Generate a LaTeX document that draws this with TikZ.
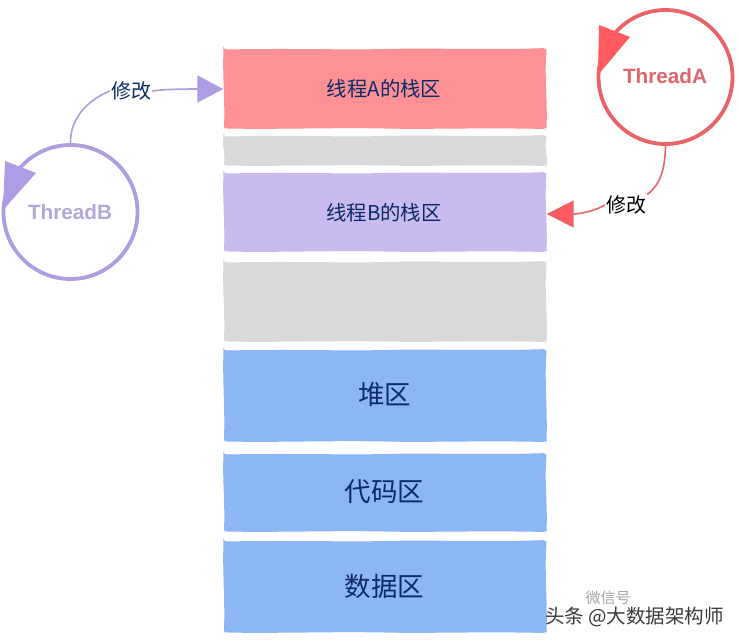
\documentclass[tikz,border=0pt]{standalone}
\usepackage{fontspec}
\setmainfont{Liberation Sans}
\newfontfamily\cjk{Noto Sans CJK SC}
\usetikzlibrary{arrows.meta}
\definecolor{boxred}{HTML}{FF9095}
\definecolor{boxpurple}{HTML}{C9BBEE}
\definecolor{boxgray}{HTML}{D9D8DA}
\definecolor{boxblue}{HTML}{8DB6F6}
\definecolor{inkblue}{HTML}{0B2B66}
\definecolor{ringred}{HTML}{E9636B}
\definecolor{tipred}{HTML}{FF5A60}
\definecolor{ringpurple}{HTML}{AE9DDF}
\definecolor{tippurple}{HTML}{AE9DE5}
\definecolor{namepurple}{HTML}{B3A7D8}
\definecolor{namered}{HTML}{E0666E}
\definecolor{markgray}{HTML}{3A3A3A}
% name, colour, top y, bottom y: hand-wobbled block spanning x = 223..546
\newcommand{\memblock}[4]{%
  \fill[#2,rounded corners=3pt]
    (223.5,#3+1.5) .. controls (300,#3+0.2) and (340,#3+2) .. (385,#3+1)
    .. controls (430,#3) and (500,#3+2) .. (546,#3)
    -- (546.5,#3+3) .. controls (544.5,{#3+(#4-#3)*0.35}) and (547.5,{#3+(#4-#3)*0.65}) .. (546.5,#4-1)
    -- (546,#4) .. controls (480,#4-1.5) and (430,#4+0.5) .. (385,#4-0.5)
    .. controls (330,#4-1.5) and (280,#4+0.5) .. (224.5,#4-0.5)
    -- (224,#4-2) .. controls (225,{#3+(#4-#3)*0.65}) and (222.5,{#3+(#4-#3)*0.35}) .. (223.5,#3+1.5) -- cycle;
  \node[blockanchor,minimum height={(#4-#3)*1pt}] (#1) at (385,{(#3+#4)/2}) {};%
}
\tikzset{
  blockanchor/.style={draw=none,fill=none,inner sep=0pt,minimum width=323pt},
  smalllabel/.style={font=\cjk\fontsize{20.4}{20.4}\selectfont,text=inkblue},
  biglabel/.style={font=\cjk\fontsize{26.5}{26.5}\selectfont,text=inkblue},
  threadring/.style={circle,draw=#1,line width=3.8pt,fill=white,inner sep=0pt,minimum size=134pt},
  threadname/.style={font=\bfseries\fontsize{20.7}{20.7}\selectfont},
  editlabel/.style={font=\cjk\fontsize{20}{20}\selectfont,inner sep=1pt},
  editline/.style={line width=1.6pt},
}
\begin{document}
\begin{tikzpicture}[x=1pt,y=-1pt]
\useasboundingbox (0,0) rectangle (739,642);
\memblock{stackA}{boxred}{48}{129}
\memblock{gapA}{boxgray}{135}{166}
\memblock{stackB}{boxpurple}{172}{252}
\memblock{gapB}{boxgray}{261}{342}
\memblock{heap}{boxblue}{349}{442}
\memblock{code}{boxblue}{453}{532}
\memblock{data}{boxblue}{540}{633}
\node[smalllabel] (textA) at (384,88.5) {线程A的栈区};
\node[smalllabel] (textB) at (384,212.5) {线程B的栈区};
\node[biglabel] (textHeap) at (384.5,395) {堆区};
\node[biglabel] (textCode) at (384.5,492) {代码区};
\node[biglabel] (textData) at (384.5,586) {数据区};
% threads
\node[threadring=ringred] (threadA) at (665.5,77) {};
\node[threadname,text=namered] at (665,76) (nameA) {ThreadA};
\node[threadring=ringpurple] (threadB) at (70.5,212) {};
\node[threadname,text=namepurple] at (70,212) (nameB) {ThreadB};
\fill[tipred] (599,25) -- (630,37) -- (598,75) -- cycle;
\fill[tippurple] (5,161) -- (36,173) -- (3,210) -- cycle;
% connectors
\node[editlabel,text=inkblue] (editB) at (131,91) {修改};
\node[editlabel,text=black] (editA) at (626,205) {修改};
\coordinate (intoA) at (stackA.west |- 0,89);
\coordinate (intoB) at (stackB.east |- 0,214);
\draw[editline,draw=ringpurple] (threadB.north) .. controls (70,118) and (88,100) .. (editB.west);
\draw[editline,draw=ringpurple,-{Triangle[length=26pt,width=27pt,fill=tippurple]}] (editB.east) .. controls (165,89) and (190,89) .. (intoA);
\draw[editline,draw=ringred] (threadA.south) .. controls (665,170) and (660,185) .. (editA.north east);
\draw[editline,draw=ringred,-{Triangle[length=27pt,width=27pt,fill=tipred]}] (editA.west) .. controls (595,211) and (580,214) .. (intoB);
% watermark
\node[font=\cjk\fontsize{15}{15}\selectfont,text=markgray!45,inner sep=0pt] (markA) at (608,598) {微信号};
\node[font=\cjk\fontsize{19.5}{19.5}\selectfont,text=markgray,inner sep=0pt] (markB) at (634.5,617) {头条 @大数据架构师};
\end{tikzpicture}
\end{document}
